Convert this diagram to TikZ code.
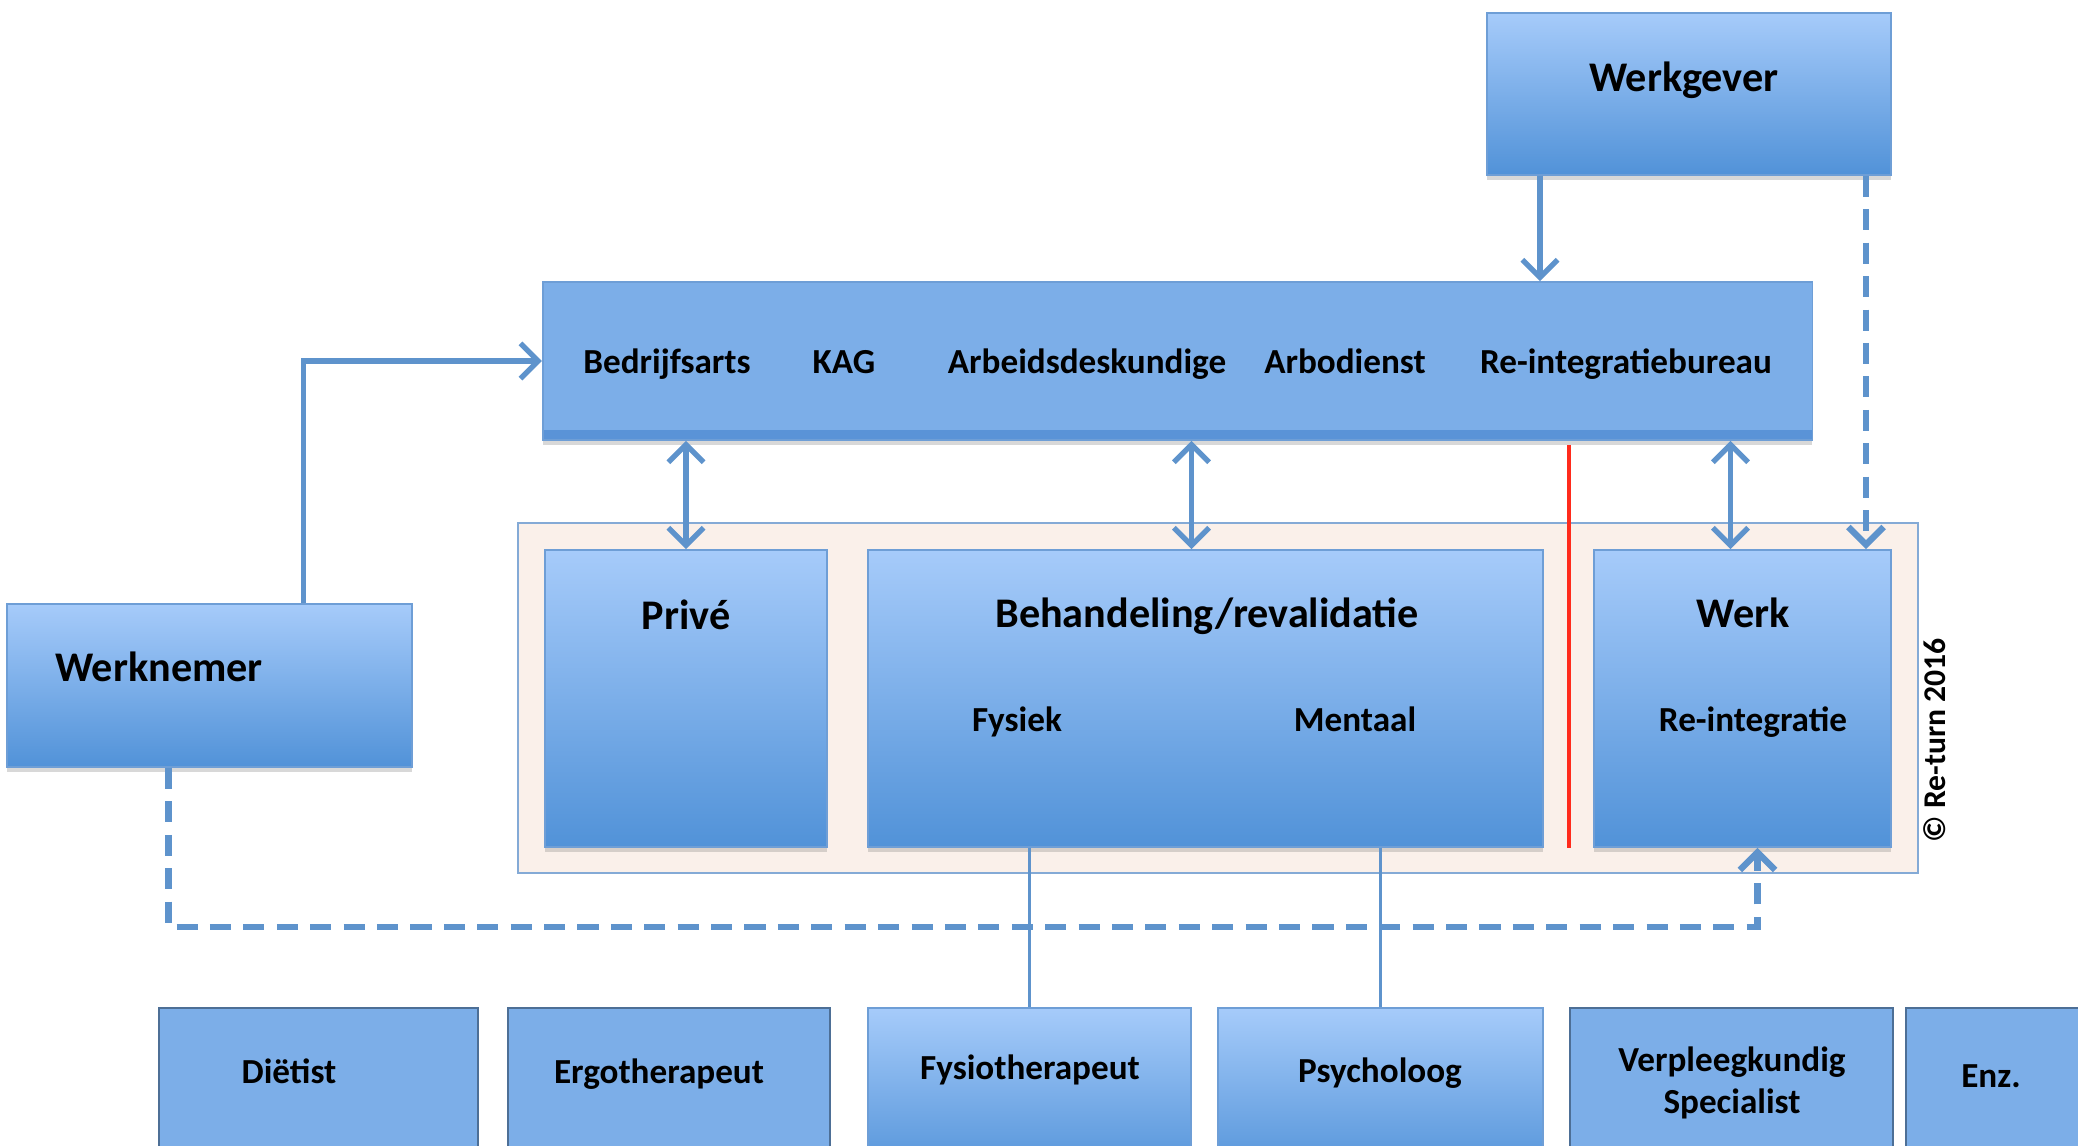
\documentclass[tikz,border=0pt]{standalone}
\usepackage{fontspec}
\setmainfont{Carlito}
\usepackage{tikz}
\usetikzlibrary{calc,arrows.meta,shadows}
\definecolor{boxtop}{HTML}{A6CBFA}
\definecolor{boxbot}{HTML}{5192D8}
\definecolor{flatblue}{HTML}{7CAEE8}
\definecolor{bandblue}{HTML}{5A93D7}
\definecolor{boxline}{HTML}{6E9ED6}
\definecolor{linkblue}{HTML}{5E93CC}
\definecolor{framefill}{HTML}{FAF0EA}
\definecolor{frameline}{HTML}{84AAD6}
\definecolor{splitred}{HTML}{FF2B1C}
\tikzset{
% Box styles: shaded box, flat box, the service bar and the frame
grad box/.style={rectangle,draw=boxline,line width=0.5pt,top color=boxtop,bottom color=boxbot,
  drop shadow={shadow xshift=0pt,shadow yshift=-1.5pt,opacity=0.3}},
flat box/.style={rectangle,draw=boxline!70!black,line width=0.5pt,fill=flatblue},
bar box/.style={rectangle,draw=boxline,line width=0.5pt,fill=flatblue,
  drop shadow={shadow xshift=0pt,shadow yshift=-1.5pt,opacity=0.3},
  path picture={\fill[bandblue] (path picture bounding box.south west) rectangle ([yshift=3pt]path picture bounding box.south east);}},
frame box/.style={rectangle,draw=frameline,line width=0.6pt,fill=framefill},
% Text styles (placed on their baseline)
big label/.style={font=\fontsize{12}{14}\selectfont\bfseries,anchor=base},
small label/.style={font=\fontsize{10}{12}\selectfont\bfseries,anchor=base,align=center},
% Connector styles
link/.style={draw=linkblue,line width=1.5pt},
link arrow/.style={link,-{Straight Barb[length=5pt,width=10pt]}},
both arrow/.style={link,{Straight Barb[length=5pt,width=10pt]}-{Straight Barb[length=5pt,width=10pt]}},
dash arrow/.style={link,line width=1.8pt,dash pattern=on 6pt off 3.5pt,-{Straight Barb[length=5pt,width=10pt]}},
red line/.style={draw=splitred,line width=1.1pt}
}
\begin{document}
\begin{tikzpicture}[x=0.01cm,y=-0.01cm]
        \clip (0,0) rectangle (2078,1145);
        \fill[white] (0,0) rectangle (2078,1145);
        % Top: employer and the service bar
        \node[grad box,minimum width=4.04cm,minimum height=1.62cm] (werkgever) at (1689,94) {};
        \node[big label] (werkgevertxt) at (1684,91) {Werkgever};
        \node[bar box,minimum width=12.69cm,minimum height=1.58cm] (diensten) at (1177.5,361) {};
        \foreach \name/\xpos/\txt in {arts/667/Bedrijfsarts,kag/844/KAG,deskundige/1087/Arbeidsdeskundige,
          arbo/1345/Arbodienst,bureau/1626/Re-integratiebureau}
          \node[small label] (\name) at (\xpos,373) {\txt};
        % Middle: frame with the three domains
        \node[frame box,minimum width=14cm,minimum height=3.5cm] (kader) at (1218,698) {};
        \node[grad box,minimum width=2.82cm,minimum height=2.97cm] (prive) at (686,698.5) {};
        \node[big label] (privetxt) at (686,629) {Privé};
        \node[grad box,minimum width=6.75cm,minimum height=2.97cm] (behandeling) at (1205.5,698.5) {};
        \node[big label] (behandelingtxt) at (1207,627) {Behandeling/revalidatie};
        \node[small label] (fysiek) at (1017,731) {Fysiek};
        \node[small label] (mentaal) at (1355,731) {Mentaal};
        \node[grad box,minimum width=2.97cm,minimum height=2.97cm] (werk) at (1742.5,698.5) {};
        \node[big label] (werktxt) at (1743,627) {Werk};
        \node[small label] (reintegratie) at (1753,731) {Re-integratie};
        \node[rotate=90,font=\fontsize{9}{10}\selectfont\bfseries] (copyright) at (1935,740) {© Re-turn 2016};
        % Left: employee
        \node[grad box,minimum width=4.05cm,minimum height=1.63cm] (werknemer) at (209.5,685.5) {};
        \node[big label] (werknemertxt) at (159,681) {Werknemer};
        % Bottom row of disciplines
        \node[flat box,minimum width=3.19cm,minimum height=1.7cm,anchor=north] (dietist) at (318.5,1007) {};
        \node[small label] at (289,1083) {Diëtist};
        \node[flat box,minimum width=3.22cm,minimum height=1.7cm,anchor=north] (ergo) at (669,1007) {};
        \node[small label] at (659,1083) {Ergotherapeut};
        \node[grad box,minimum width=3.23cm,minimum height=1.7cm,anchor=north] (fysio) at (1029.5,1007) {};
        \node[small label] at (1030,1079) {Fysiotherapeut};
        \node[grad box,minimum width=3.25cm,minimum height=1.7cm,anchor=north] (psycholoog) at (1380.5,1007) {};
        \node[small label] at (1380,1082) {Psycholoog};
        \node[flat box,minimum width=3.23cm,minimum height=1.7cm,anchor=north] (verpleeg) at (1731.5,1007) {};
        \node[small label,anchor=center] at (1732,1083) {Verpleegkundig\\Specialist};
        \node[flat box,minimum width=3.23cm,minimum height=1.7cm,anchor=north] (enz) at (2067.5,1007) {};
        \node[small label] at (1991,1087) {Enz.};
        % Connectors
        \draw[link arrow] ($(werkgever.south)+(-149,0)$) coordinate (wg) -- (wg |- diensten.north);
        \draw[dash arrow] ($(werkgever.south east)+(-26,0)$) coordinate (wd) -- (wd |- werk.north);
        \draw[link arrow] ($(werknemer.north)+(94,0)$) |- (diensten.west);
        \draw[both arrow] (prive.north |- diensten.south) -- (prive.north);
        \draw[both arrow] ($(behandeling.north)+(-14,0)$) coordinate (bh) -- (bh |- diensten.south);
        \draw[both arrow] ($(werk.north)+(-12,0)$) coordinate (wk) -- (wk |- diensten.south);
        \draw[red line] ($(diensten.south)+(391.5,4)$) coordinate (rd) -- (rd |- prive.south);
        \draw[dash arrow] ($(werknemer.south)+(-41,0)$) -- ++(0,159) -| ($(werk.south)+(15,0)$);
        \draw[link,line width=1.1pt] (behandeling.south -| fysio.north) -- (fysio.north);
        \draw[link,line width=1.1pt] (behandeling.south -| psycholoog.north) -- (psycholoog.north);
\end{tikzpicture}
\end{document}
